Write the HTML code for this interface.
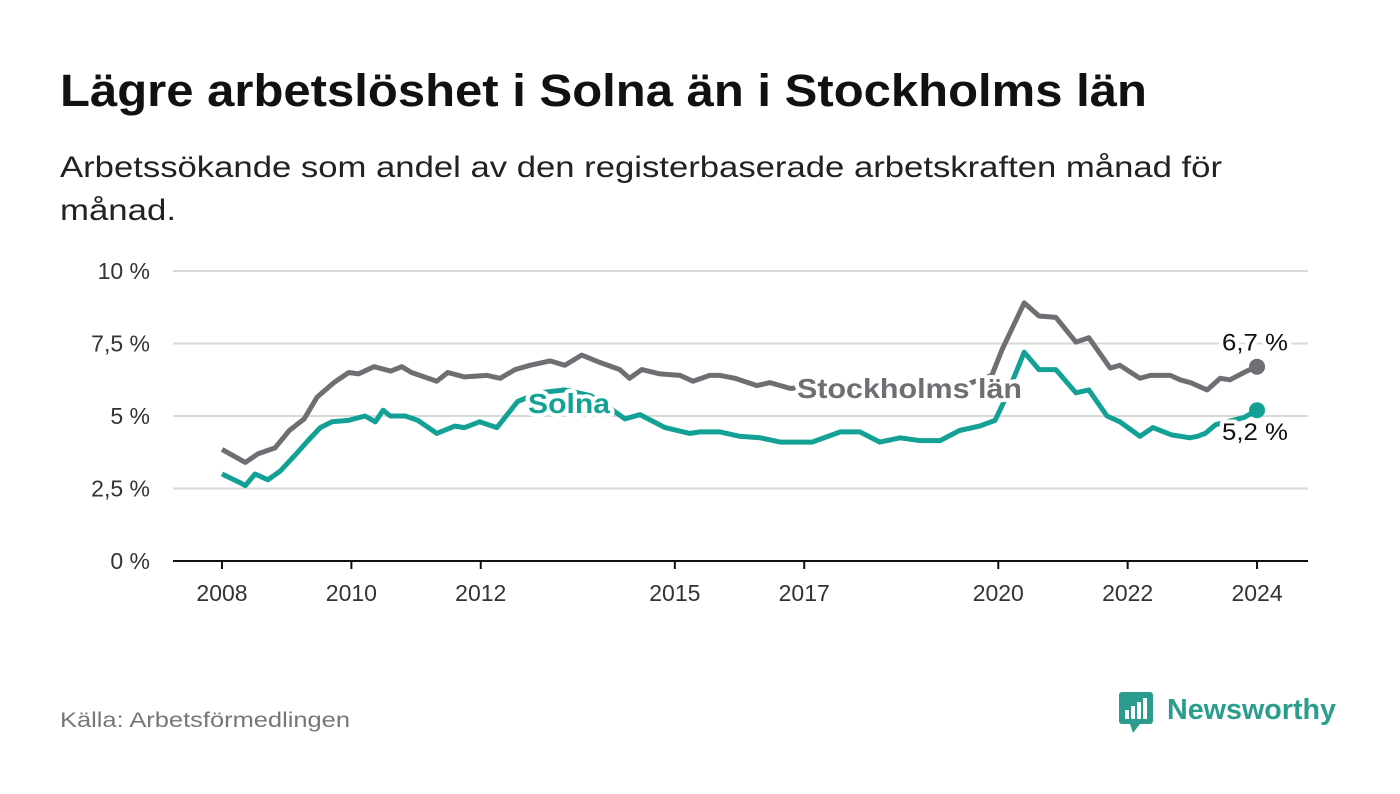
<!DOCTYPE html>
<html><head><meta charset="utf-8"><style>
body{margin:0;background:#fff;width:1400px;height:794px;overflow:hidden;font-family:"Liberation Sans",sans-serif}
</style></head><body>
<svg id="c" width="1400" height="794" style="position:absolute;left:0;top:0">
<text x="60" y="106" font-size="45" font-weight="bold" fill="#111" textLength="1087" lengthAdjust="spacingAndGlyphs">Lägre arbetslöshet i Solna än i Stockholms län</text>
<text x="60" y="177" font-size="30" fill="#222" textLength="1162" lengthAdjust="spacingAndGlyphs">Arbetssökande som andel av den registerbaserade arbetskraften månad för</text>
<text x="60" y="220" font-size="30" fill="#222" textLength="116" lengthAdjust="spacingAndGlyphs">månad.</text>
<g id="grid"></g><g id="lines"></g><g id="labels"></g>
<text x="60" y="727" font-size="21" fill="#777" textLength="290" lengthAdjust="spacingAndGlyphs">Källa: Arbetsförmedlingen</text>
<g>
<rect x="1119" y="692" width="34" height="32" rx="3" fill="#2a9d8f"/>
<polygon points="1130,724 1140,724 1133,733" fill="#2a9d8f"/>
<rect x="1125" y="710" width="4" height="9" fill="#fff"/><rect x="1131" y="706" width="4" height="13" fill="#fff"/><rect x="1137" y="702" width="4" height="17" fill="#fff"/><rect x="1143" y="698" width="4" height="21" fill="#fff"/>
<text x="1167" y="719" font-size="29" font-weight="bold" fill="#2a9d8f" textLength="169" lengthAdjust="spacingAndGlyphs">Newsworthy</text>
</g>
</svg>
<script>
const yTicks=[0,2.5,5,7.5,10];
const yTickLabels=["0 %","2,5 %","5 %","7,5 %","10 %"];
const xTicks=[2008,2010,2012,2015,2017,2020,2022,2024];
const stockholmYears=[2008.0,2008.36,2008.56,2008.82,2009.04,2009.27,2009.47,2009.73,2009.96,2010.11,2010.35,2010.61,2010.78,2010.93,2011.32,2011.49,2011.75,2012.1,2012.3,2012.53,2012.76,2013.07,2013.3,2013.56,2013.84,2014.15,2014.3,2014.49,2014.77,2015.08,2015.28,2015.54,2015.7,2015.93,2016.27,2016.47,2016.78,2017.3,2018.0,2018.8,2019.4,2019.9,2020.06,2020.4,2020.63,2020.89,2021.2,2021.4,2021.73,2021.88,2022.19,2022.35,2022.66,2022.81,2022.97,2023.23,2023.43,2023.58,2023.84,2024.0];
const stockholmValues=[3.85,3.4,3.7,3.9,4.5,4.9,5.65,6.15,6.5,6.45,6.7,6.55,6.7,6.5,6.2,6.5,6.35,6.4,6.3,6.6,6.75,6.9,6.75,7.1,6.85,6.6,6.3,6.6,6.45,6.4,6.2,6.4,6.4,6.3,6.05,6.15,5.95,6.0,5.9,5.9,6.0,6.4,7.3,8.9,8.45,8.4,7.55,7.7,6.65,6.75,6.3,6.4,6.4,6.25,6.15,5.9,6.3,6.25,6.55,6.7];
const solnaYears=[2008.0,2008.28,2008.36,2008.51,2008.71,2008.9,2009.13,2009.33,2009.52,2009.7,2009.95,2010.21,2010.37,2010.49,2010.6,2010.83,2011.03,2011.32,2011.6,2011.75,2011.98,2012.25,2012.57,2012.9,2013.3,2013.7,2014.04,2014.23,2014.46,2014.85,2015.23,2015.39,2015.7,2016.0,2016.32,2016.63,2017.12,2017.56,2017.86,2018.17,2018.48,2018.79,2019.1,2019.4,2019.71,2019.95,2020.1,2020.4,2020.63,2020.89,2021.2,2021.4,2021.68,2021.88,2022.19,2022.39,2022.68,2022.96,2023.08,2023.2,2023.36,2023.8,2024.0];
const solnaValues=[3.0,2.7,2.6,3.0,2.8,3.1,3.65,4.15,4.6,4.8,4.85,5.0,4.8,5.2,5.0,5.0,4.85,4.4,4.65,4.6,4.8,4.6,5.5,5.8,5.9,5.7,5.2,4.9,5.05,4.6,4.4,4.45,4.45,4.3,4.25,4.1,4.1,4.45,4.45,4.1,4.25,4.15,4.15,4.5,4.65,4.85,5.55,7.2,6.6,6.6,5.8,5.9,5.0,4.8,4.3,4.6,4.35,4.25,4.3,4.4,4.7,4.95,5.2];
const NS="http://www.w3.org/2000/svg";
const X=y=>222+(y-2008)*64.69, Y=v=>561-v*29;
function mk(t,a,p){const e=document.createElementNS(NS,t);for(const k in a)e.setAttribute(k,a[k]);p.appendChild(e);return e;}
const g=document.getElementById('grid'),L=document.getElementById('lines'),lb=document.getElementById('labels');
yTicks.forEach((v,i)=>{
 if(v>0){const l=mk('line',{x1:173,x2:1308,y1:Y(v),y2:Y(v),stroke:'#d9d9d9','stroke-width':2},g);
 
 }
 const t=mk('text',{x:150,y:Y(v)+8,'font-size':23,fill:'#333','text-anchor':'end'},g);t.textContent=yTickLabels[i];
 
 
});
const ax=mk('line',{x1:173,x2:1308,y1:561,y2:561,stroke:'#111','stroke-width':2},g);


xTicks.forEach(yr=>{
 mk('line',{x1:X(yr),x2:X(yr),y1:561,y2:569,stroke:'#111','stroke-width':2},g);
 const t=mk('text',{x:X(yr),y:601,'font-size':23,fill:'#333','text-anchor':'middle'},g);t.textContent=yr;
 
 
});
function line(ys,vs,col,name){
 const d=ys.map((y,i)=>(i?'L':'M')+X(y).toFixed(1)+','+Y(vs[i]).toFixed(1)).join('');
 const p=mk('path',{d:d,fill:'none',stroke:col,'stroke-width':5,'stroke-linejoin':'round'},L);
 
 
 const n=ys.length-1;
 const c=mk('circle',{cx:X(ys[n]),cy:Y(vs[n]),r:8,fill:col},L);
 
 
}
line(stockholmYears,stockholmValues,'#6e6e73','stockholm-line');
line(solnaYears,solnaValues,'#13a195','solna-line');
function lab(x,y,txt,col,w,sz,name,len){
 const a={x:x,y:y,'font-size':sz,'font-weight':w,fill:col,stroke:'#fff','stroke-width':8,'paint-order':'stroke','stroke-linejoin':'round'};
 if(len){a.textLength=len;a.lengthAdjust='spacingAndGlyphs';}
 const t=mk('text',a,lb);
 t.textContent=txt;
 
 
}
lab(797,398,'Stockholms län','#6e6e73','bold',28,'stockholm-series-label',225);
lab(528,413,'Solna','#13a195','bold',28,'solna-series-label',82);
const n1=stockholmValues.length-1,n2=solnaValues.length-1;
lab(1222,Y(stockholmValues[n1])-16,stockholmValues[n1].toFixed(1).replace('.',',')+' %','#111','normal',24,'stockholm-end-value',66);
lab(1222,Y(solnaValues[n2])+30,solnaValues[n2].toFixed(1).replace('.',',')+' %','#111','normal',24,'solna-end-value',66);
</script>
</body></html>
